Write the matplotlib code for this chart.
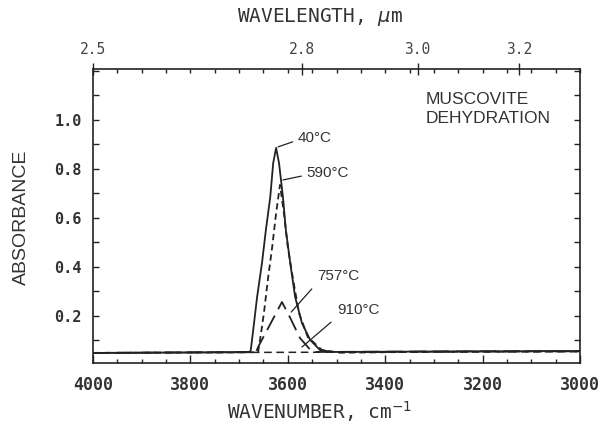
import matplotlib
matplotlib.use("Agg")
import matplotlib.pyplot as plt
from matplotlib.ticker import FixedLocator, MultipleLocator, NullFormatter

# ---- data (wavenumber cm-1, absorbance) ----
wn_40 = [4000, 3800, 3690, 3678, 3676, 3671, 3663, 3653, 3645, 3636, 3630, 3624,
         3618, 3610, 3604, 3595, 3585, 3571, 3554, 3534, 3507, 3300, 3000]
ab_40 = [0.049, 0.051, 0.052, 0.053, 0.061, 0.143, 0.278, 0.416, 0.551, 0.686, 0.824, 0.886,
         0.824, 0.686, 0.551, 0.416, 0.278, 0.171, 0.102, 0.061, 0.053, 0.055, 0.057]

wn_590 = [4000, 3670, 3661, 3657, 3649, 3641, 3632, 3624, 3616, 3608, 3600, 3589,
          3577, 3559, 3530, 3493, 3300, 3000]
ab_590 = [0.049, 0.052, 0.053, 0.102, 0.212, 0.347, 0.482, 0.620, 0.735, 0.620, 0.482, 0.347,
          0.212, 0.114, 0.061, 0.050, 0.054, 0.056]

wn_757 = [4000, 3665, 3661, 3637, 3612, 3595, 3575, 3550, 3300, 3000]
ab_757 = [0.049, 0.053, 0.073, 0.163, 0.257, 0.192, 0.110, 0.053, 0.055, 0.056]

wn_910 = [4000, 3000]
ab_910 = [0.050, 0.054]

series_labels = ["40°C", "590°C", "757°C", "910°C"]

x_major = [4000, 3800, 3600, 3400, 3200, 3000]
x_major_labels = ["4000", "3800", "3600", "3400", "3200", "3000"]
y_major = [0.2, 0.4, 0.6, 0.8, 1.0]
y_major_labels = ["0.2", "0.4", "0.6", "0.8", "1.0"]
wl_ticks = [2.5, 2.8, 3.0, 3.2]
wl_labels = ["2.5", "2.8", "3.0", "3.2"]

ink = "#222222"
txt = "#333333"

fig = plt.figure(figsize=(6.06, 4.30), dpi=100)
ax = fig.add_axes([93 / 606, 1 - 363 / 430, (580 - 93) / 606, (363 - 69) / 430])

lw = 1.3
ax.plot(wn_910, ab_910, color=ink, lw=1.1, dashes=(5, 3))
ax.plot(wn_757, ab_757, color=ink, lw=1.3, dashes=(9, 4))
ax.plot(wn_590, ab_590, color=ink, lw=1.3, dashes=(3.5, 2.2))
ax.plot(wn_40, ab_40, color=ink, lw=lw)

ax.set_xlim(4000, 3000)
ax.set_ylim(0.008, 1.208)

for s in ax.spines.values():
    s.set_color(ink)
    s.set_linewidth(1.2)

# bottom / left ticks
ax.xaxis.set_major_locator(FixedLocator(x_major))
ax.set_xticklabels(x_major_labels)
ax.xaxis.set_minor_locator(MultipleLocator(50))
ax.yaxis.set_major_locator(FixedLocator(y_major))
ax.set_yticklabels(y_major_labels)
ax.yaxis.set_minor_locator(MultipleLocator(0.1))
ax.tick_params(axis="x", which="major", direction="in", length=6, width=1.0, color=ink,
               pad=9, bottom=True, top=False)
ax.tick_params(axis="x", which="minor", direction="in", length=3, width=1.0, color=ink,
               bottom=True, top=False)
ax.tick_params(axis="y", which="both", direction="in", length=4, width=1.0, color=ink,
               left=True, right=True, pad=8)
for lab in ax.get_xticklabels():
    lab.set_fontfamily("DejaVu Sans Mono")
    lab.set_fontweight("bold")
    lab.set_fontsize(12)
    lab.set_color(txt)
for lab in ax.get_yticklabels():
    lab.set_fontfamily("DejaVu Sans Mono")
    lab.set_fontweight("bold")
    lab.set_fontsize(11)
    lab.set_color(txt)

# top wavelength axis
axt = ax.twiny()
axt.set_xlim(ax.get_xlim())
axt.xaxis.set_major_locator(FixedLocator([1e4 / w for w in wl_ticks]))
axt.set_xticklabels(wl_labels)
axt.xaxis.set_minor_locator(MultipleLocator(50))
axt.tick_params(axis="x", which="major", direction="inout", length=8, width=1.0, color=ink,
                pad=5, labelsize=10.5, labelcolor="#444444")
axt.tick_params(axis="x", which="minor", direction="in", length=3, width=1.0, color=ink)
for lab in axt.get_xticklabels():
    lab.set_fontfamily("DejaVu Sans Mono")
for s in axt.spines.values():
    s.set_visible(False)

# axis titles
fig.text(320 / 606, 1 - 17 / 430, "WAVELENGTH, $\\mu$m", ha="center", va="center",
         fontsize=14, family="DejaVu Sans Mono", color=txt)
fig.text(320 / 606, 1 - 412 / 430, "WAVENUMBER, cm$^{-1}$", ha="center", va="center",
         fontsize=14, family="DejaVu Sans Mono", color=txt)
fig.text(21 / 606, 1 - 217 / 430, "ABSORBANCE", ha="center", va="center", rotation=90,
         fontsize=14, family="Liberation Sans", color=txt)

# inset title
ax.text(0.682, 0.895, "MUSCOVITE", transform=ax.transAxes, ha="left", va="center",
        fontsize=12.5, family="Liberation Sans", color=txt)
ax.text(0.682, 0.833, "DEHYDRATION", transform=ax.transAxes, ha="left", va="center",
        fontsize=12.5, family="Liberation Sans", color=txt)

# curve labels with leader lines
ann = dict(fontsize=11, family="Liberation Sans", color=txt, ha="left", va="center")
ax.annotate(series_labels[0], xy=(3620, 0.89), xytext=(3579, 0.927),
            arrowprops=dict(arrowstyle="-", color=ink, lw=0.9, shrinkA=2, shrinkB=0,
                            relpos=(0, 0.35)), **ann)
ax.annotate(series_labels[1], xy=(3610, 0.755), xytext=(3561, 0.784),
            arrowprops=dict(arrowstyle="-", color=ink, lw=0.9, shrinkA=2, shrinkB=0,
                            relpos=(0, 0.35)), **ann)
ax.annotate(series_labels[2], xy=(3593, 0.216), xytext=(3540, 0.363),
            arrowprops=dict(arrowstyle="-", color=ink, lw=0.9, shrinkA=3, shrinkB=0,
                            relpos=(0, 0)), **ann)
ax.annotate(series_labels[3], xy=(3571, 0.073), xytext=(3499, 0.224),
            arrowprops=dict(arrowstyle="-", color=ink, lw=0.9, shrinkA=3, shrinkB=0,
                            relpos=(0, 0)), **ann)

fig.savefig("out.png", dpi=100)
